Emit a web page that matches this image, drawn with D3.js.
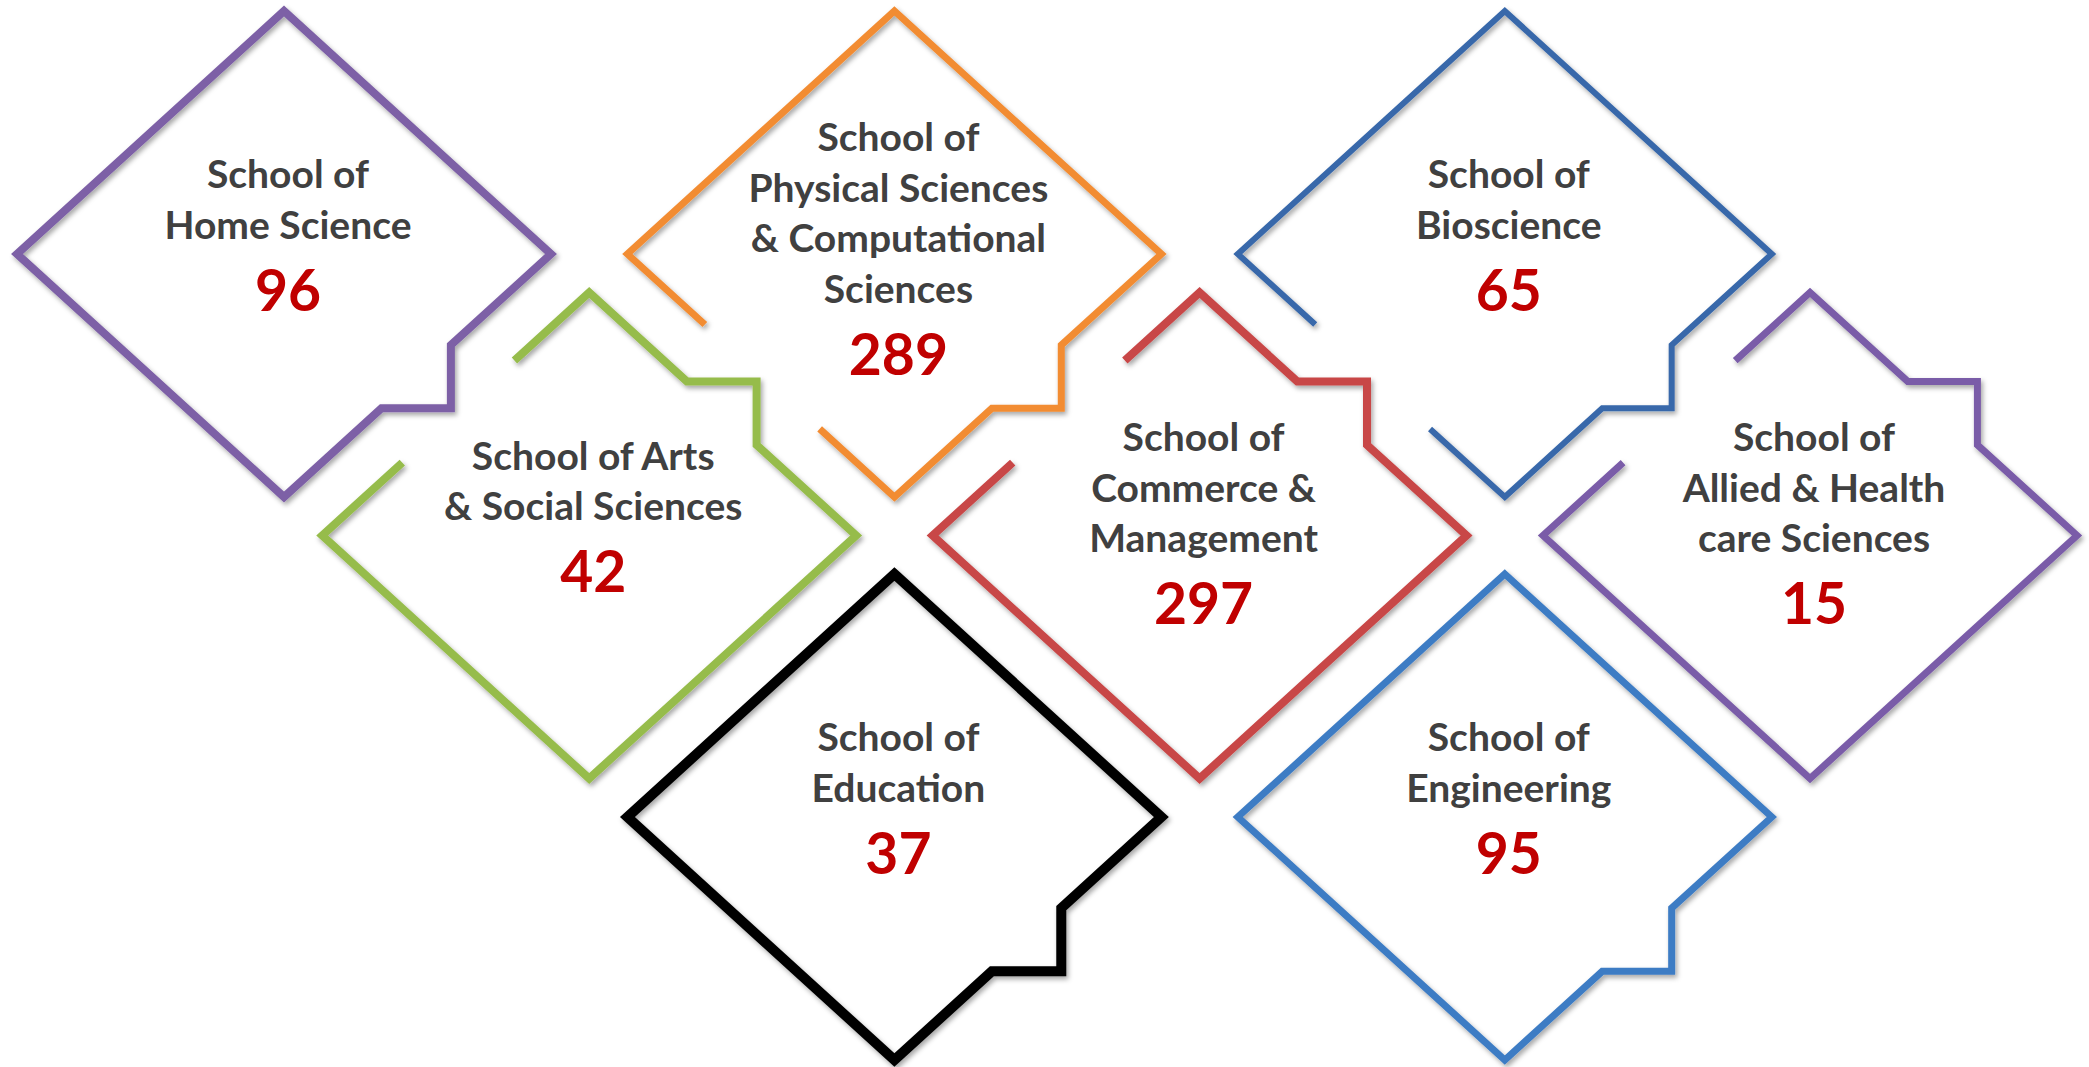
<!DOCTYPE html>
<html>
<head>
<meta charset="utf-8">
<script src="https://cdn.jsdelivr.net/npm/d3@7"></script>
<style>
  body { margin: 0; background: #fff; }
  #chart text { font-family: Lato, "Open Sans", sans-serif; font-weight: bold; }
</style>
</head>
<body>
<div id="chart"></div>
<script>
// school names, split the way the slide wraps them
const labelLines = [
    ["School of", "Home Science"],
    ["School of", "Physical Sciences", "& Computational", "Sciences"],
    ["School of", "Bioscience"],
    ["School of Arts", "& Social Sciences"],
    ["School of", "Commerce &", "Management"],
    ["School of", "Allied & Health", "care Sciences"],
    ["School of", "Education"],
    ["School of", "Engineering"]
];

// count shown under each name
const counts = [96, 289, 65, 42, 297, 15, 37, 95];

// outline colour per school
const colors = ["#7d60a6", "#f28c33", "#3767aa", "#96bc4c", "#c84646", "#7a5ba8", "#000000", "#3d7cc4"];
const strokeW = [8, 7, 6, 8, 8, 7, 10, 7];

// where each diamond sits on the lattice, and which cut-outs it has
const slots = [
    {col: 0, row: 0, kind: "lr"},
    {col: 2, row: 0, kind: "lrGap"},
    {col: 4, row: 0, kind: "lrGap"},
    {col: 1, row: 1, kind: "urGap"},
    {col: 3, row: 1, kind: "urGap"},
    {col: 5, row: 1, kind: "urGap"},
    {col: 2, row: 2, kind: "lr"},
    {col: 4, row: 2, kind: "lr"}
];

const width = 2089;
const height = 1067;
const hw = 267, hh = 243;   // half width / height of a diamond

const x = d3.scalePoint().domain(d3.range(6)).range([284, 1810]);
const y = d3.scalePoint().domain(d3.range(3)).range([254, 817]);

const svg = d3.select("#chart")
    .append("svg")
    .attr("width", width)
    .attr("height", height);

const defs = svg.append("defs");
defs.append("filter")
    .attr("id", "shadow")
    .attr("x", "-10%").attr("y", "-10%")
    .attr("width", "120%").attr("height", "120%")
    .append("feDropShadow")
    .attr("dx", 2).attr("dy", 3)
    .attr("stdDeviation", 2.5)
    .attr("flood-color", "#000")
    .attr("flood-opacity", 0.35);

const lerp = (a, b, t) => [a[0] + (b[0] - a[0]) * t, a[1] + (b[1] - a[1]) * t];
const line = d3.line();

function outline(cx, cy, kind) {
    const T = [cx, cy - hh], R = [cx + hw, cy], B = [cx, cy + hh], L = [cx - hw, cy];
    if (kind === "lr" || kind === "lrGap") {
        // step on the lower right edge
        const p1 = lerp(R, B, 0.375), p2 = lerp(R, B, 0.635);
        const c = [p1[0], p2[1]];
        if (kind === "lr") return line([T, R, p1, c, p2, B, L]) + "Z";
        return line([lerp(L, B, 0.72), B, p2, c, p1, R, T, L, lerp(L, B, 0.29)]);
    }
    // step on the upper right edge, gap on the upper left one
    const p1 = lerp(T, R, 0.366), p2 = lerp(T, R, 0.627);
    const c = [p2[0], p1[1]];
    return line([lerp(T, L, 0.28), T, p1, c, p2, R, B, L, lerp(T, L, 0.70)]);
}

const data = counts.map((v, i) => ({
    lines: labelLines[i],
    value: v,
    color: colors[i],
    sw: strokeW[i],
    cx: x(slots[i].col),
    cy: y(slots[i].row),
    kind: slots[i].kind
}));

const g = svg.selectAll("g.school")
    .data(data)
    .enter()
    .append("g")
    .attr("class", "school");

g.append("path")
    .attr("d", d => outline(d.cx, d.cy, d.kind))
    .attr("fill", "none")
    .attr("stroke", d => d.color)
    .attr("stroke-width", d => d.sw)
    .attr("stroke-linejoin", "miter")
    .attr("stroke-linecap", "butt")
    .attr("filter", "url(#shadow)");

const lineGap = 50.5;
g.each(function(d) {
    const n = d.lines.length;
    const first = d.cy - 66 - 18.5 * (n - 2);
    const sel = d3.select(this);
    d.lines.forEach((t, k) => {
        sel.append("text")
            .attr("x", d.cx + 4)
            .attr("y", first + k * lineGap)
            .attr("text-anchor", "middle")
            .attr("font-size", 39)
            .attr("fill", "#404040")
            .text(t);
    });
    sel.append("text")
        .attr("x", d.cx + 4)
        .attr("y", first + (n - 1) * lineGap + 72)
        .attr("text-anchor", "middle")
        .attr("font-size", 57)
        .attr("fill", "#c00000")
        .text(d.value);
});
</script>
</body>
</html>
